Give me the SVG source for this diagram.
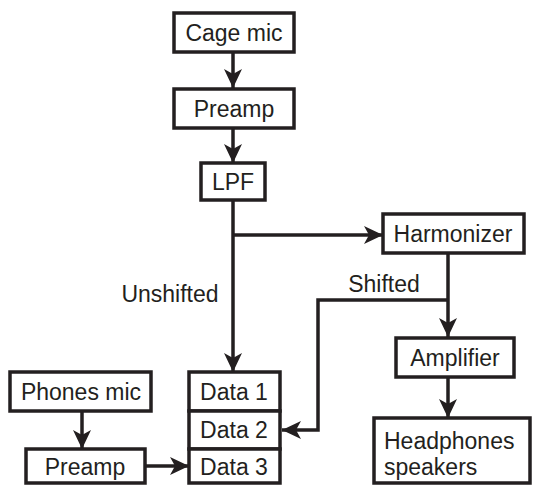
<svg xmlns="http://www.w3.org/2000/svg" width="533" height="485" viewBox="0 0 533 485">
<style>
.box{fill:#fff;stroke:#231f20;stroke-width:3.5}
.t{font-family:"Liberation Sans",Arial,sans-serif;font-size:23px;fill:#231f20;text-anchor:middle}
.l{text-anchor:start}
.c{fill:none;stroke:#231f20;stroke-width:3.5}
</style>
<defs>
<marker id="ah" markerUnits="userSpaceOnUse" markerWidth="22" markerHeight="22" viewBox="-20 -11 22 22" refX="0" refY="0" orient="auto">
<path d="M0,0 L-19,-9 L-14,0 L-19,9 Z" fill="#231f20"/>
</marker>
</defs>
<rect width="533" height="485" fill="#fff"/>
<g id="connectors">
<path class="c" d="M233,52 V88" marker-end="url(#ah)"/>
<path class="c" d="M233,128 V163" marker-end="url(#ah)"/>
<path class="c" d="M233,200 V372" marker-end="url(#ah)"/>
<path class="c" d="M233,235 H383" marker-end="url(#ah)"/>
<path class="c" d="M448,253 V337" marker-end="url(#ah)"/>
<path class="c" d="M448,300 H318 V430 H282" marker-end="url(#ah)"/>
<path class="c" d="M448,377 V418" marker-end="url(#ah)"/>
<path class="c" d="M82,411 V449" marker-end="url(#ah)"/>
<path class="c" d="M145,466 H189" marker-end="url(#ah)"/>
<text class="t" x="170" y="302">Unshifted</text>
<text class="t" x="384" y="292">Shifted</text>
</g>
<g id="cage-mic"><rect class="box" x="174" y="13" width="120" height="39"/><text class="t" x="234" y="41">Cage mic</text></g>
<g id="preamp-top"><rect class="box" x="174" y="89" width="120" height="39"/><text class="t" x="234" y="117">Preamp</text></g>
<g id="lpf"><rect class="box" x="201" y="163" width="64" height="37"/><text class="t" x="233" y="190">LPF</text></g>
<g id="harmonizer"><rect class="box" x="383" y="214" width="141" height="39"/><text class="t" x="453" y="242">Harmonizer</text></g>
<g id="amplifier"><rect class="box" x="396" y="338" width="118" height="39"/><text class="t" x="455" y="366">Amplifier</text></g>
<g id="headphones"><rect class="box" x="374" y="418" width="156" height="65"/><text class="t l" x="384" y="449">Headphones</text><text class="t l" x="384" y="475">speakers</text></g>
<g id="phones-mic"><rect class="box" x="10" y="372" width="141" height="39"/><text class="t" x="81" y="400">Phones mic</text></g>
<g id="preamp-bottom"><rect class="box" x="26" y="449" width="119" height="34"/><text class="t" x="85" y="475">Preamp</text></g>
<g id="data"><rect class="box" x="189" y="372" width="91" height="39"/><text class="t" x="234" y="400">Data 1</text>
<rect class="box" x="189" y="411" width="91" height="38"/><text class="t" x="234" y="438">Data 2</text>
<rect class="box" x="189" y="449" width="91" height="34"/><text class="t" x="234" y="475">Data 3</text></g>
</svg>
